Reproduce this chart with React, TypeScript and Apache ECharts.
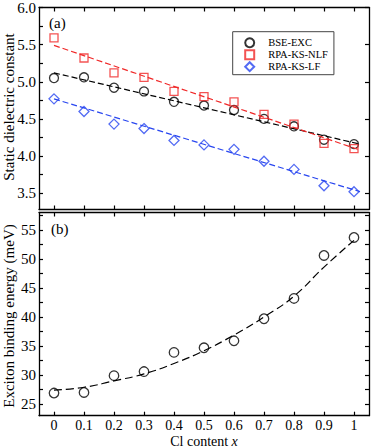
import React, { useEffect, useRef } from "react";
import * as echarts from "echarts";

const xValues = [0, 0.1, 0.2, 0.3, 0.4, 0.5, 0.6, 0.7, 0.8, 0.9, 1.0];
const xTickValues = [0, 0.1, 0.2, 0.3, 0.4, 0.5, 0.6, 0.7, 0.8, 0.9, 1.0];

const bseExc = [5.05, 5.06, 4.92, 4.87, 4.73, 4.68, 4.62, 4.5, 4.4, 4.22, 4.16];
const rpaKsNlf = [5.59, 5.32, 5.12, 5.06, 4.87, 4.8, 4.73, 4.56, 4.43, 4.17, 4.1];
const rpaKsLf = [4.77, 4.6, 4.43, 4.37, 4.21, 4.15, 4.09, 3.93, 3.82, 3.6, 3.52];

const fitX = [0, 1.02];
const bseFit = [5.12, 4.16];
const nlfFit = [5.49, 4.08];
const lfFit = [4.77, 3.52];

const bindingEnergy = [26.9, 27.0, 29.9, 30.6, 33.9, 34.7, 35.9, 39.7, 43.2, 50.6, 53.7];
const bindingFit = [27.4, 27.9, 29.0, 30.2, 32.0, 34.2, 36.9, 40.0, 43.6, 48.6, 53.2];

const topTicksLeft = [3.5, 3.75, 4.0, 4.25, 4.5, 4.75, 5.0, 5.25, 5.5, 5.75, 6.0];
const topTicksRight = [3.5, 4.0, 4.5, 5.0, 5.5, 6.0];
const topLabels = [3.5, 4.0, 4.5, 5.0, 5.5, 6.0];
const bottomTicks = [25, 27.5, 30, 32.5, 35, 37.5, 40, 42.5, 45, 47.5, 50, 52.5, 55, 57.5];
const bottomLabels = [25, 30, 35, 40, 45, 50, 55];

const RED = "#f02828";
const BLUE = "#2846f0";
const FONT = "Liberation Serif";

const zip = (xs: number[], ys: number[]) => xs.map((x, i) => [x, ys[i]]);

const axisLine = { show: true, onZero: false, lineStyle: { color: "#000", width: 1.3 } };
const tick = (vals: number[]) => ({
  show: true,
  inside: true,
  length: 4,
  customValues: vals,
  lineStyle: { color: "#000", width: 1.2 },
});

export default function App() {
  const ref = useRef<HTMLDivElement>(null);
  useEffect(() => {
    if (!ref.current) return;
    const chart = echarts.init(ref.current, undefined, { renderer: "svg" });
    const xAxisBase = {
      type: "value",
      min: -0.05,
      max: 1.05,
      axisLine,
      axisTick: tick(xTickValues),
      splitLine: { show: false },
    };
    const option: any = {
      animation: false,
      textStyle: { fontFamily: FONT, color: "#000" },
      grid: [
        { left: 39, right: 3, top: 5, height: 204.5 },
        { left: 39, right: 3, top: 212.5, height: 203.2 },
      ],
      xAxis: [
        { ...xAxisBase, gridIndex: 0, position: "bottom", axisLabel: { show: false } },
        { ...xAxisBase, gridIndex: 0, position: "top", axisLabel: { show: false } },
        {
          ...xAxisBase,
          gridIndex: 1,
          position: "bottom",
          axisLabel: {
            show: true,
            customValues: xTickValues,
            margin: 3,
            fontSize: 14,
            lineHeight: 14,
            fontFamily: FONT,
            color: "#000",
            formatter: (v: number) => String(+v.toFixed(1)),
          },
        },
        { ...xAxisBase, gridIndex: 1, position: "top", axisLabel: { show: false } },
      ],
      yAxis: [
        {
          type: "value",
          gridIndex: 0,
          position: "left",
          min: 3.28,
          max: 6.0,
          axisLine,
          axisTick: tick(topTicksLeft),
          splitLine: { show: false },
          axisLabel: {
            show: true,
            customValues: topLabels,
            margin: 3,
            fontSize: 15,
            fontFamily: FONT,
            color: "#000",
            formatter: (v: number) => v.toFixed(1),
          },
        },
        {
          type: "value",
          gridIndex: 0,
          position: "right",
          min: 3.28,
          max: 6.0,
          axisLine,
          axisTick: tick(topTicksRight),
          splitLine: { show: false },
          axisLabel: { show: false },
        },
        {
          type: "value",
          gridIndex: 1,
          position: "left",
          min: 23,
          max: 58,
          axisLine,
          axisTick: tick(bottomTicks),
          splitLine: { show: false },
          axisLabel: {
            show: true,
            customValues: bottomLabels,
            margin: 3,
            fontSize: 15,
            fontFamily: FONT,
            color: "#000",
          },
        },
        {
          type: "value",
          gridIndex: 1,
          position: "right",
          min: 23,
          max: 58,
          axisLine,
          axisTick: tick(bottomTicks),
          splitLine: { show: false },
          axisLabel: { show: false },
        },
      ],
      legend: {
        data: [
          { name: "BSE-EXC", icon: "circle" },
          { name: "RPA-KS-NLF", icon: "rect" },
          { name: "RPA-KS-LF", icon: "diamond" },
        ],
        orient: "vertical",
        left: 232.7,
        top: 31.7,
        itemWidth: 9,
        itemHeight: 9,
        itemGap: 0,
        padding: [5, 6, 2, 11.5],
        borderColor: "#444",
        borderWidth: 1,
        selectedMode: false,
        textStyle: {
          fontSize: 10.5,
          lineHeight: 12,
          fontFamily: FONT,
          color: "#000",
          padding: [0, 0, 0, 9],
        },
      },
      graphic: [
        {
          type: "text",
          x: 9,
          y: 107,
          rotation: Math.PI / 2,
          style: {
            text: "Static dielectric constant",
            font: `15px "${FONT}"`,
            fill: "#000",
            textAlign: "center",
            textVerticalAlign: "middle",
          },
        },
        {
          type: "text",
          x: 9,
          y: 316,
          rotation: Math.PI / 2,
          style: {
            text: "Exciton binding energy (meV)",
            font: `15px "${FONT}"`,
            fill: "#000",
            textAlign: "center",
            textVerticalAlign: "middle",
          },
        },
        {
          type: "text",
          x: 204,
          y: 441,
          style: {
            text: "{n|Cl content }{i|x}",
            rich: {
              n: { fontFamily: FONT, fontSize: 14, lineHeight: 14, fill: "#000" },
              i: { fontFamily: FONT, fontSize: 14, lineHeight: 14, fontStyle: "italic", fill: "#000" },
            },
            textAlign: "center",
            textVerticalAlign: "middle",
          },
        },
        {
          type: "text",
          x: 49,
          y: 23,
          style: { text: "(a)", font: `15px "${FONT}"`, fill: "#000", textVerticalAlign: "middle" },
        },
        {
          type: "text",
          x: 51,
          y: 229,
          style: { text: "(b)", font: `15px "${FONT}"`, fill: "#000", textVerticalAlign: "middle" },
        },
      ],
      series: [
        {
          name: "fit-bse",
          type: "line",
          xAxisIndex: 0,
          yAxisIndex: 0,
          data: zip(fitX, bseFit),
          symbol: "none",
          lineStyle: { color: "#000", width: 1.2, type: [6, 3] },
        },
        {
          name: "fit-nlf",
          type: "line",
          xAxisIndex: 0,
          yAxisIndex: 0,
          data: zip(fitX, nlfFit),
          symbol: "none",
          lineStyle: { color: RED, width: 1.2, type: [6, 3] },
        },
        {
          name: "fit-lf",
          type: "line",
          xAxisIndex: 0,
          yAxisIndex: 0,
          data: zip(fitX, lfFit),
          symbol: "none",
          lineStyle: { color: BLUE, width: 1.2, type: [6, 3] },
        },
        {
          name: "BSE-EXC",
          type: "scatter",
          xAxisIndex: 0,
          yAxisIndex: 0,
          data: zip(xValues, bseExc),
          symbol: "circle",
          symbolSize: 9,
          itemStyle: { color: "rgba(0,0,0,0)", borderColor: "#000", borderWidth: 1.3 },
        },
        {
          name: "RPA-KS-NLF",
          type: "scatter",
          xAxisIndex: 0,
          yAxisIndex: 0,
          data: zip(xValues, rpaKsNlf),
          symbol: "rect",
          symbolSize: 8,
          itemStyle: { color: "rgba(0,0,0,0)", borderColor: RED, borderWidth: 1.3 },
        },
        {
          name: "RPA-KS-LF",
          type: "scatter",
          xAxisIndex: 0,
          yAxisIndex: 0,
          data: zip(xValues, rpaKsLf),
          symbol: "diamond",
          symbolSize: 10,
          itemStyle: { color: "rgba(0,0,0,0)", borderColor: BLUE, borderWidth: 1.3 },
        },
        {
          name: "fit-binding",
          type: "line",
          xAxisIndex: 2,
          yAxisIndex: 2,
          data: zip(xValues, bindingFit),
          smooth: true,
          symbol: "none",
          lineStyle: { color: "#000", width: 1.2, type: [8, 4] },
        },
        {
          name: "Binding",
          type: "scatter",
          xAxisIndex: 2,
          yAxisIndex: 2,
          data: zip(xValues, bindingEnergy),
          symbol: "circle",
          symbolSize: 9.5,
          itemStyle: { color: "rgba(0,0,0,0)", borderColor: "#000", borderWidth: 1.3 },
        },
      ],
    };
    chart.setOption(option);
    return () => chart.dispose();
  }, []);
  return (
    <div
      ref={ref}
      style={{ position: "fixed", left: 0, top: 0, width: 372, height: 448, background: "#fff" }}
    />
  );
}
